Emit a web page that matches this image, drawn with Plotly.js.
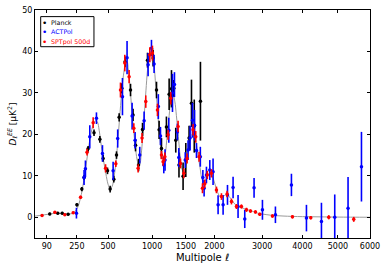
<!DOCTYPE html>
<html>
<head>
<meta charset="utf-8">
<script src="https://cdn.plot.ly/plotly-3.0.1.min.js"></script>
<style>html,body{margin:0;padding:0;background:#fff;}#chart{width:385px;height:270px;}</style>
</head>
<body>
<div id="chart"></div>
<script>
// Multipole tick labels
const tickLabels = [90, 250, 500, 1000, 1500, 2000, 3000, 4000, 5000, 6000];
const yTicks = [0, 10, 20, 30, 40, 50];

// Legend entries
const seriesNames = ['Planck', 'ACTPol', 'SPTpol 500d'];
const seriesColors = ['#000000', '#0000ff', '#ff0000'];
const legendTextColors = ['#000000', '#0000ff', '#ff0000'];

// Theory curve (gray)
const theoryEll = [49, 50, 80, 110, 140, 170, 200, 225, 250, 270, 290, 310, 330, 350, 370, 390, 405, 420, 440, 460, 480, 500, 520, 540, 560, 580, 600, 620, 640, 660, 680, 695, 710, 730, 750, 770, 790, 810, 830, 845, 860, 880, 900, 920, 940, 960, 985, 1005, 1025, 1050, 1075, 1100, 1125, 1150, 1165, 1185, 1210, 1240, 1270, 1300, 1325, 1350, 1380, 1410, 1440, 1465, 1490, 1520, 1560, 1600, 1630, 1660, 1700, 1740, 1780, 1820, 1870, 1920, 1960, 2000, 2040, 2090, 2140, 2190, 2240, 2290, 2350, 2420, 2500, 2600, 2700, 2800, 2900, 3000, 3200, 3500, 4000, 4500, 5000, 6000];
const theoryD = [0.3, 0.3, 0.6, 0.85, 1.0, 0.9, 0.8, 1.0, 2.0, 4.0, 7.2, 11.5, 16.0, 19.8, 22.3, 23.3, 23.0, 21.0, 17.0, 13.5, 10.5, 8.0, 6.8, 7.5, 10.0, 14.0, 19.5, 25.5, 31.0, 35.0, 37.3, 37.5, 35.5, 31.0, 25.5, 21.0, 17.0, 14.0, 12.5, 12.8, 15.0, 19.5, 25.0, 30.5, 35.5, 38.8, 40.0, 39.5, 37.0, 31.5, 25.5, 20.0, 16.0, 14.0, 14.0, 15.5, 19.5, 24.5, 28.5, 29.5, 28.0, 24.5, 19.5, 14.5, 11.5, 10.8, 12.0, 14.5, 18.0, 20.0, 20.0, 18.8, 15.5, 12.0, 9.0, 8.5, 9.8, 10.8, 10.0, 8.5, 6.8, 5.3, 4.7, 5.2, 5.5, 5.0, 4.0, 3.0, 2.5, 2.1, 1.7, 1.4, 1.0, 0.8, 0.5, 0.3, 0.15, 0.1, 0.05, 0.0];

// Planck (black)
const planckEll = [102, 139, 162, 195, 250, 284, 300, 330, 377, 426, 455, 495, 520, 556, 583, 610, 638, 673, 734, 763, 792, 828, 877, 940, 1014, 1060, 1096, 1129, 1200, 1240, 1275, 1310, 1340, 1390, 1455, 1499, 1553, 1593, 1640, 1747];
const planckD = [0.8, 1.0, 1.0, 0.7, 3.0, 6.8, 9.6, 16.5, 20.4, 18.8, 14.2, 11.2, 6.8, 9.2, 15.0, 24.1, 31.1, 37.5, 30.7, 24.7, 17.4, 12.6, 21.2, 37.9, 38.4, 30.7, 21.1, 16.6, 21.8, 29.7, 31.0, 31.1, 18.6, 12.6, 9.9, 13.8, 19.1, 27.5, 22.0, 28.0];
const planckErr = [0.3, 0.3, 0.3, 0.3, 0.4, 0.5, 0.6, 0.7, 0.8, 0.8, 0.8, 0.8, 0.8, 0.8, 0.9, 1.0, 1.2, 1.3, 1.5, 1.5, 1.5, 1.5, 1.6, 1.8, 2.0, 2.0, 2.2, 2.5, 2.5, 3.8, 4.5, 2.0, 3.0, 3.0, 3.3, 4.1, 3.0, 5.7, 6.4, 9.5];

// ACTPol (blue)
const actEll = [247, 300, 310, 343, 397, 449, 549, 595, 645, 695, 752, 787, 843, 897, 948, 992, 1027, 1085, 1115, 1162, 1180, 1235, 1290, 1320, 1365, 1387, 1490, 1536, 1570, 1610, 1645, 1678, 1745, 1790, 1812, 1854, 1915, 1976, 2071, 2168, 2255, 2368, 2471, 2613, 2817, 3007, 3314, 3713, 4108, 4522, 4906, 5306, 5725];
const actD = [1.0, 9.6, 11.7, 19.4, 23.9, 15.4, 11.2, 19.0, 29.1, 38.5, 24.4, 18.6, 15.0, 23.3, 36.8, 40.8, 37.0, 26.7, 19.6, 12.6, 13.8, 21.0, 30.0, 32.0, 20.6, 14.4, 13.8, 16.2, 19.1, 23.4, 22.2, 16.1, 14.6, 9.6, 7.0, 10.2, 11.4, 11.0, 3.0, 3.0, 5.4, 7.2, 2.6, -0.4, 7.1, 1.8, 0.6, 7.8, -0.2, -1.0, 0.0, 2.2, 12.2];
const actErr = [1.3, 1.8, 2.0, 2.8, 1.4, 2.0, 2.2, 2.2, 4.5, 4.0, 3.2, 2.0, 2.0, 2.2, 2.8, 2.0, 2.2, 3.0, 2.2, 2.0, 2.6, 3.0, 4.6, 3.0, 2.0, 2.3, 1.9, 2.4, 3.0, 4.2, 3.7, 1.8, 2.4, 1.8, 2.0, 2.0, 2.4, 3.2, 2.3, 2.4, 2.4, 2.6, 2.8, 2.2, 2.4, 2.4, 2.0, 2.7, 3.2, 4.5, 5.5, 7.5, 8.4];

// SPTpol 500d (red)
const sptEll = [72, 125, 176, 226, 275, 322, 370, 477, 576, 624, 670, 718, 772, 823, 871, 918, 970, 1005, 1073, 1129, 1152, 1177, 1224, 1264, 1376, 1414, 1466, 1520, 1620, 1665, 1723, 1783, 1824, 1870, 1945, 2040, 2136, 2247, 2335, 2437, 2542, 2650, 2737, 2848, 2945, 3242, 3739, 4225, 4731, 5482];
const sptD = [0.4, 1.2, 0.6, 1.1, 4.8, 15.7, 22.8, 11.8, 12.9, 30.7, 37.2, 33.9, 21.5, 11.8, 19.1, 27.9, 39.2, 39.6, 25.9, 15.0, 13.4, 14.6, 19.9, 28.7, 21.9, 13.0, 10.6, 14.2, 21.1, 19.4, 14.6, 7.0, 8.1, 10.2, 10.6, 6.6, 5.0, 5.6, 3.8, 2.6, 2.6, 1.8, 1.5, 1.3, 0.7, 0.3, 0.1, -0.1, 0.0, -0.5];
const sptErr = [0.3, 0.3, 0.3, 0.3, 0.4, 0.8, 1.3, 1.0, 0.8, 1.8, 2.0, 1.6, 1.2, 1.0, 1.2, 1.5, 1.8, 1.8, 1.5, 1.0, 1.0, 1.0, 1.2, 1.5, 1.4, 1.2, 1.2, 1.2, 1.4, 1.4, 1.2, 1.2, 1.0, 1.0, 1.0, 0.8, 0.8, 0.8, 0.7, 0.6, 0.5, 0.5, 0.4, 0.4, 0.4, 0.4, 0.4, 0.4, 0.5, 0.6];

const sq = a => a.map(v => Math.sqrt(v));
const FONT = 'DejaVu Sans, sans-serif';

function dataTrace(ell, d, err, color, name) {
  return {
    x: sq(ell), y: d, type: 'scatter', mode: 'markers', name: name, showlegend: false,
    marker: {color: color, size: 3.5},
    error_y: {type: 'data', array: err, visible: true, width: 0, thickness: 1.6, color: color}
  };
}

const traces = [
  {x: sq(theoryEll), y: theoryD, type: 'scatter', mode: 'lines', line: {color: '#9a9a9a', width: 1, shape: 'spline'}, showlegend: false, hoverinfo: 'skip'},
  dataTrace(planckEll, planckD, planckErr, seriesColors[0], seriesNames[0]),
  dataTrace(actEll, actD, actErr, seriesColors[1], seriesNames[1]),
  dataTrace(sptEll, sptD, sptErr, seriesColors[2], seriesNames[2])
];

// Hand-built compact legend (matplotlib style) in paper coordinates
const legX0 = 0.017, legX1 = 0.176, legY0 = 0.839, legY1 = 0.971;
const legRowY = [0.944, 0.905, 0.861];
const annotations = [];
seriesNames.forEach((n, i) => {
  annotations.push({xref: 'paper', yref: 'paper', x: 0.027, y: legRowY[i], xanchor: 'center', yanchor: 'middle',
    text: '•', showarrow: false, font: {family: FONT, size: 9, color: seriesColors[i]}});
  annotations.push({xref: 'paper', yref: 'paper', x: 0.043, y: legRowY[i], xanchor: 'left', yanchor: 'middle',
    text: n, showarrow: false, font: {family: FONT, size: 6.3, color: legendTextColors[i]}});
});

const axisCommon = {
  showline: true, linecolor: '#000', linewidth: 1, mirror: 'ticks',
  ticks: 'inside', ticklen: 3, tickwidth: 1, tickcolor: '#000',
  showgrid: false, zeroline: false,
  tickfont: {family: FONT, size: 8, color: '#000'}
};

const layout = {
  width: 385, height: 270,
  margin: {l: 35, r: 15, t: 10, b: 32},
  paper_bgcolor: '#fff', plot_bgcolor: '#fff',
  font: {family: FONT, color: '#000'},
  showlegend: false,
  shapes: [{type: 'rect', xref: 'paper', yref: 'paper', x0: legX0, x1: legX1, y0: legY0, y1: legY1,
    line: {color: '#000', width: 1}, fillcolor: '#fff', layer: 'above'}],
  annotations: annotations,
  xaxis: Object.assign({}, axisCommon, {
    range: [7.0, Math.sqrt(6000)],
    tickmode: 'array', tickvals: sq(tickLabels), ticktext: tickLabels.map(String),
    title: {text: 'Multipole <i>ℓ</i>', font: {family: FONT, size: 10}, standoff: 4}
  }),
  yaxis: Object.assign({}, axisCommon, {
    range: [-5, 50], tickmode: 'array', tickvals: yTicks, ticktext: yTicks.map(String),
    title: {text: '<i>D</i><sub><i>ℓ</i></sub><sup><i>EE</i></sup> [μK<sup>2</sup>]', font: {family: FONT, size: 9}, standoff: 4}
  })
};

Plotly.newPlot('chart', traces, layout, {staticPlot: true, displayModeBar: false});
</script>
</body>
</html>
